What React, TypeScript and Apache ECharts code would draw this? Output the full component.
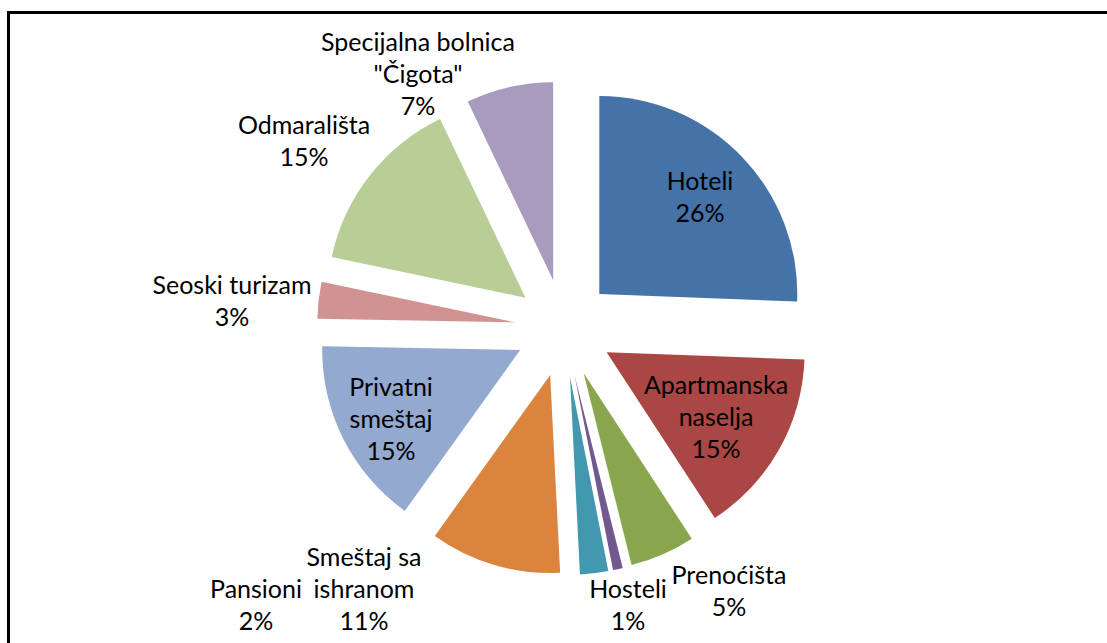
import React, { useEffect, useRef } from "react";
import * as echarts from "echarts";

// Categories (slices, clockwise from 12 o'clock)
const categories: string[] = [
  "Hoteli",
  "Apartmanska naselja",
  "Prenoćišta",
  "Hosteli",
  "Pansioni",
  "Smeštaj sa ishranom",
  "Privatni smeštaj",
  "Seoski turizam",
  "Odmarališta",
  'Specijalna bolnica "Čigota"',
];

// Shares in percent
const shares: number[] = [25.6, 15.2, 5.3, 0.8, 2.3, 10.7, 15.4, 3.0, 14.6, 7.1];

// How each category name wraps in its label
const labelLines: string[][] = [
  ["Hoteli"],
  ["Apartmanska", "naselja"],
  ["Prenoćišta"],
  ["Hosteli"],
  ["Pansioni"],
  ["Smeštaj sa", "ishranom"],
  ["Privatni", "smeštaj"],
  ["Seoski turizam"],
  ["Odmarališta"],
  ["Specijalna bolnica", '"Čigota"'],
];

const colors: string[] = [
  "#4572A7",
  "#AA4643",
  "#89A54E",
  "#71588F",
  "#4198AF",
  "#DB843D",
  "#93A9CF",
  "#D19392",
  "#B9CD96",
  "#A99BBD",
];

// Label block centres (layout only)
const labelAnchors: [number, number][] = [
  [700, 196],
  [716, 416],
  [729, 590],
  [628, 604],
  [256, 604],
  [364, 588],
  [391, 418],
  [232, 300],
  [304, 140],
  [418, 73],
];

export default function App() {
  const ref = useRef<HTMLDivElement>(null);

  useEffect(() => {
    document.body.style.margin = "0";
    if (!ref.current) return;
    const chart = echarts.init(ref.current, undefined, { renderer: "svg" });

    const total = shares.reduce((a, b) => a + b, 0);

    const data = categories.map((name, i) => ({
      name,
      value: shares[i],
      selected: true,
      itemStyle: { color: colors[i] },
    }));

    const labelTexts = categories.map(
      (_, i) =>
        labelLines[i].join("\n") +
        "\n" +
        Math.round((shares[i] / total) * 100) +
        "%"
    );

    const labelGraphics = labelTexts.map((text, i) => ({
      type: "text",
      x: labelAnchors[i][0],
      y: labelAnchors[i][1],
      silent: true,
      z: 20,
      style: {
        text,
        fill: "#000000",
        fontFamily: "Lato",
        fontSize: 25,
        lineHeight: 32,
        align: "center",
        verticalAlign: "middle",
      },
    }));

    chart.setOption({
      animation: false,
      backgroundColor: "#ffffff",
      graphic: [
        {
          type: "rect",
          shape: { x: 8.5, y: 12.5, width: 1200, height: 800 },
          style: { fill: "none", stroke: "#000000", lineWidth: 3 },
          silent: true,
          z: 10,
        },
        ...labelGraphics,
      ],
      series: [
        {
          type: "pie",
          center: [564, 328],
          radius: 198,
          startAngle: 90,
          clockwise: true,
          selectedMode: "multiple",
          selectedOffset: 49,
          avoidLabelOverlap: false,
          data,
          itemStyle: { borderWidth: 0 },
          emphasis: { disabled: true, scale: false },
          select: { itemStyle: { borderWidth: 0 } },
          label: { show: false },
          labelLine: { show: false },
        },
      ],
    });

    return () => {
      chart.dispose();
    };
  }, []);

  return <div ref={ref} style={{ width: 1107, height: 643 }} />;
}
